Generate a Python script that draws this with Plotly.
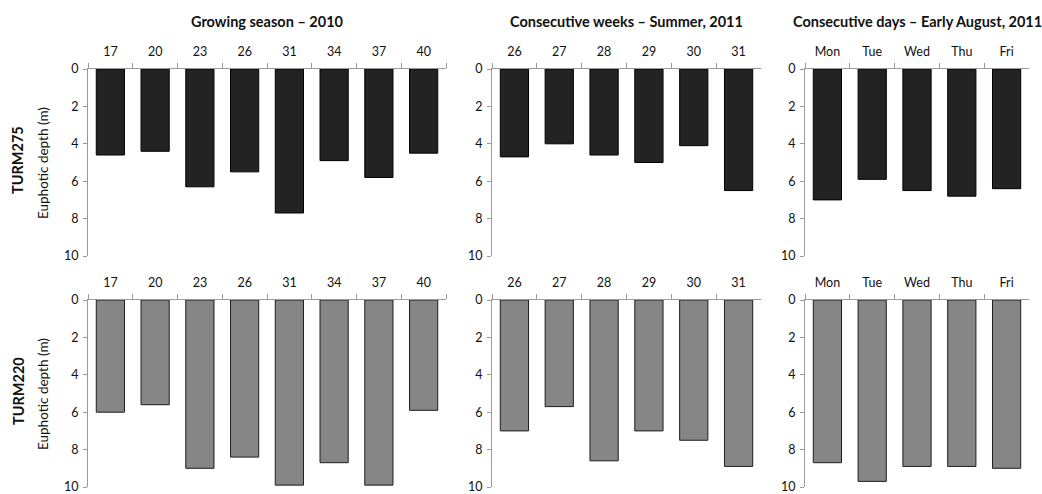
import plotly.graph_objects as go

# Sampling categories for each column of panels
weeks_2010 = ["17", "20", "23", "26", "31", "34", "37", "40"]
weeks_2011 = ["26", "27", "28", "29", "30", "31"]
days_2011 = ["Mon", "Tue", "Wed", "Thu", "Fri"]

# Euphotic depth (m), sensor TURM275
turm275_2010 = [4.6, 4.4, 6.3, 5.5, 7.7, 4.9, 5.8, 4.5]
turm275_weeks = [4.7, 4.0, 4.6, 5.0, 4.1, 6.5]
turm275_days = [7.0, 5.9, 6.5, 6.8, 6.4]

# Euphotic depth (m), sensor TURM220
turm220_2010 = [6.0, 5.6, 9.0, 8.4, 9.9, 8.7, 9.9, 5.9]
turm220_weeks = [7.0, 5.7, 8.6, 7.0, 7.5, 8.9]
turm220_days = [8.7, 9.7, 8.9, 8.9, 9.0]

column_titles = ["Growing season \u2013 2010",
                 "Consecutive weeks \u2013 Summer, 2011",
                 "Consecutive days \u2013 Early August, 2011"]
row_labels = ["TURM275", "TURM220"]
y_title = "Euphotic depth (m)"

W, H = 1042, 494
FONT = "Lato, 'Open Sans', sans-serif"
AXIS_GREY = "#9a9a9a"

# Panel extents in pixels
x_px = [(88, 446), (492, 761), (805, 1029)]
y_px = [(69, 256), (300, 487)]

rows = [
    dict(data=[turm275_2010, turm275_weeks, turm275_days], fill="#232323", edge="#000000"),
    dict(data=[turm220_2010, turm220_weeks, turm220_days], fill="#868686", edge="#1e1e1e"),
]
cats = [weeks_2010, weeks_2011, days_2011]

fig = go.Figure()
layout = {}
k = 0
for r, row in enumerate(rows):
    for c in range(3):
        k += 1
        xa = "x" if k == 1 else f"x{k}"
        ya = "y" if k == 1 else f"y{k}"
        fig.add_trace(go.Bar(
            x=cats[c], y=row["data"][c], xaxis=xa, yaxis=ya,
            width=0.63,
            marker=dict(color=row["fill"], line=dict(color=row["edge"], width=1)),
            showlegend=False, hoverinfo="x+y",
        ))
        x0, x1 = x_px[c]
        y0, y1 = y_px[r]
        layout["xaxis" if k == 1 else f"xaxis{k}"] = dict(
            domain=[x0 / W, x1 / W], anchor=ya, side="top", type="category",
            showline=True, linecolor=AXIS_GREY, linewidth=1,
            ticks="outside", tickson="boundaries", ticklen=5,
            tickcolor=AXIS_GREY, tickwidth=1, ticklabelstandoff=7,
            showgrid=False, zeroline=False, automargin=False,
            tickfont=dict(family=FONT, size=12.5, color="#111"),
            fixedrange=True,
        )
        layout["yaxis" if k == 1 else f"yaxis{k}"] = dict(
            domain=[1 - y1 / H, 1 - y0 / H], anchor=xa,
            range=[10, 0], tickvals=[0, 2, 4, 6, 8, 10],
            showline=True, linecolor=AXIS_GREY, linewidth=1,
            ticks="outside", ticklen=4, tickcolor=AXIS_GREY, tickwidth=1,
            ticklabelstandoff=2, ticklabeloverflow="allow",
            showgrid=False, zeroline=False, automargin=False,
            tickfont=dict(family=FONT, size=12.5, color="#111"),
            fixedrange=True,
        )

annotations = []
for c, title in enumerate(column_titles):
    x0, x1 = x_px[c]
    annotations.append(dict(
        text=f"<b>{title}</b>", x=(x0 + x1) / 2 / W, y=1 - 21 / H,
        xref="paper", yref="paper", showarrow=False,
        font=dict(family=FONT, size=14.5, color="#111"),
        xanchor="center", yanchor="middle",
    ))
for r, label in enumerate(row_labels):
    yc = 160 + r * 231
    annotations.append(dict(
        text=f"<b>{label}</b>", x=18 / W, y=1 - yc / H,
        xref="paper", yref="paper", showarrow=False, textangle=-90,
        font=dict(family=FONT, size=14.5, color="#111"),
        xanchor="center", yanchor="middle",
    ))
    annotations.append(dict(
        text=y_title, x=43 / W, y=1 - (yc + 3) / H,
        xref="paper", yref="paper", showarrow=False, textangle=-90,
        font=dict(family=FONT, size=13.5, color="#111"),
        xanchor="center", yanchor="middle",
    ))

fig.update_layout(
    width=W, height=H,
    margin=dict(l=0, r=0, t=0, b=0, autoexpand=False),
    paper_bgcolor="white", plot_bgcolor="white",
    annotations=annotations,
    **layout,
)

fig.write_html("out.html")
